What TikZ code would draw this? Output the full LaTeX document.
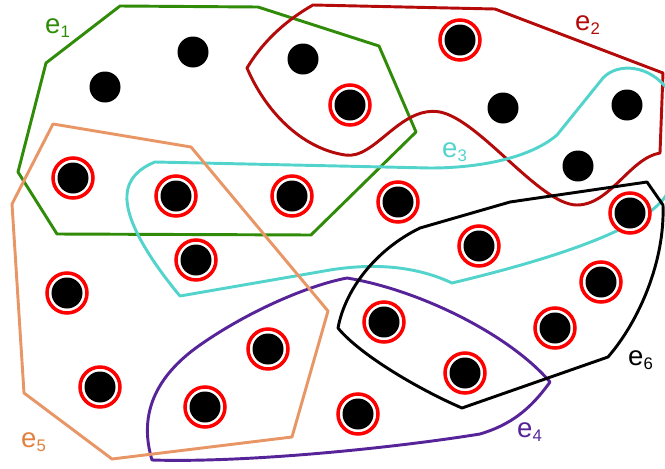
\documentclass[tikz,border=0pt]{standalone}
\usepackage{fontspec}
\setmainfont{Liberation Sans}
\definecolor{hgreen}{RGB}{48,140,8}
\definecolor{hred}{RGB}{180,10,10}
\definecolor{hcyan}{RGB}{82,212,204}
\definecolor{hpurple}{RGB}{86,36,152}
\definecolor{horange}{RGB}{232,150,102}
\definecolor{horangetxt}{RGB}{226,128,64}
\newcommand{\hdot}[2]{\node[vdot] (#1) at (#2) {};}
\newcommand{\hring}[2]{%
  \node[vring] (#1r) at (#2) {};
  \node[vdot] (#1) at (#2) {};}
\newcommand{\hlab}[4]{\node[elab,text=#3] (#1) at (#2)
  {e\raisebox{-4.2pt}{\fontsize{14.3}{15}\selectfont #4}};}

\begin{document}
\begin{tikzpicture}[x=0.03cm,y=-0.03cm,
  hedge/.style={line width=2.5pt,line join=round},
  vdot/.style={circle,fill=black,inner sep=0pt,minimum size=0.93cm},
  vring/.style={circle,draw=red,fill=white,line width=3pt,inner sep=0pt,minimum size=1.2cm},
  elab/.style={anchor=base west,inner sep=0pt,font=\fontsize{23.5}{24}\selectfont}]
  \useasboundingbox (0,0) rectangle (665,468);
  % hyperedges
  \draw[hedge,hgreen] (46,63) -- (120,6) -- (258,7) -- (379,46) -- (416,132)
    -- (311,235) -- (57,234) -- (18,172) -- cycle;
  \draw[hedge,hred] (247,68) .. controls (265,38) and (290,18) .. (313,5)
    -- (495,9) -- (663,73) -- (660,153)
    .. controls (630,158) and (610,205) .. (577,205)
    .. controls (540,205) and (480,120) .. (440,112)
    .. controls (400,105) and (375,160) .. (345,155)
    .. controls (300,148) and (265,110) .. (247,68) -- cycle;
  \draw[hedge,hcyan] (155,162) -- (430,168)
    .. controls (480,168) and (530,158) .. (557,135) -- (603,78)
    .. controls (618,62) and (650,65) .. (668,90)
    .. controls (680,120) and (680,175) .. (665,197)
    .. controls (640,232) and (540,262) .. (452,283)
    .. controls (420,268) and (380,262) .. (330,270) -- (180,296)
    .. controls (150,260) and (125,220) .. (127,195)
    .. controls (128,178) and (140,168) .. (155,162) -- cycle;
  \draw[hedge,hpurple] (347,278) .. controls (420,290) and (510,335) .. (550,382)
    .. controls (530,410) and (510,425) .. (480,434)
    .. controls (400,447) and (250,463) .. (152,460)
    .. controls (140,420) and (150,380) .. (200,345)
    .. controls (250,310) and (310,285) .. (347,278) -- cycle;
  \draw[hedge,horange] (53,124) -- (191,147) -- (328,311) -- (292,437)
    -- (112,459) -- (24,393) -- (12,204) -- cycle;
  \draw[hedge,black] (647,182) -- (663,205)
    .. controls (665,260) and (640,320) .. (608,357) -- (462,408)
    .. controls (420,390) and (360,355) .. (338,328)
    .. controls (345,290) and (375,250) .. (420,228) -- (510,202) -- cycle;
  % vertices
  \foreach \p [count=\i] in {{105,87},{193,52},{303,59},{503,108},{627,105},{578,166}}{
    \hdot{d\i}{\p}}
  \foreach \p [count=\i] in {{460,40},{350,105},{73,178},{176,196},{292,196},
      {398,202},{479,246},{630,213},{196,260},{67,293},{100,387},{268,349},
      {205,407},{358,414},{384,322},{465,373},{555,328},{601,282}}{
    \hring{v\i}{\p}}
  % labels
  \hlab{l1}{45,33}{hgreen}{1}
  \hlab{l2}{575,30}{hred}{2}
  \hlab{l3}{442,157}{hcyan}{3}
  \hlab{l4}{517,437}{hpurple}{4}
  \hlab{l5}{21,447}{horangetxt}{5}
  \hlab{l6}{628,365}{black}{6}
\end{tikzpicture}
\end{document}
